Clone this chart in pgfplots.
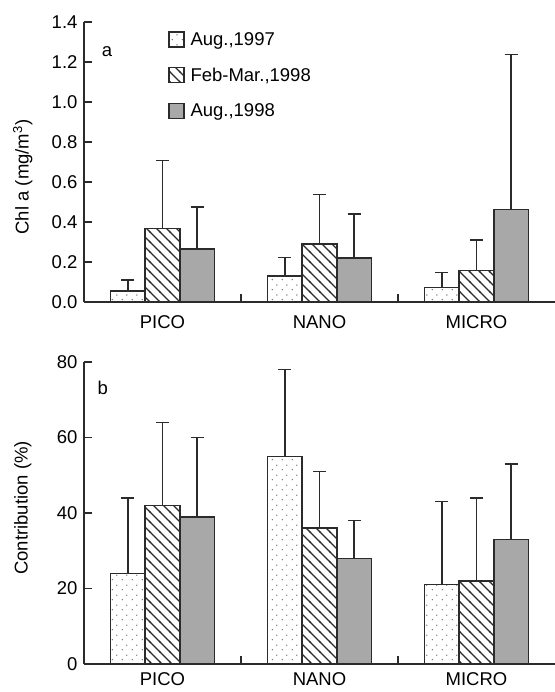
\documentclass[border=0pt]{standalone}
\usepackage{fontspec}
\setmainfont{Liberation Sans}
\usepackage{pgfplots}
\pgfplotsset{compat=1.18}
\usetikzlibrary{patterns}
\definecolor{ink}{HTML}{2B2B2B}
\definecolor{barfill}{HTML}{A8A8A8}

% sparse staggered dots
\pgfdeclarepatternformonly{sparsedots}{\pgfqpoint{0pt}{0pt}}{\pgfqpoint{10pt}{10pt}}{\pgfqpoint{10pt}{10pt}}{%
  \pgfpathcircle{\pgfqpoint{2.5pt}{2.5pt}}{0.8pt}%
  \pgfpathcircle{\pgfqpoint{7.5pt}{7.5pt}}{0.8pt}%
  \pgfusepath{fill}}
% wide "\" hatching
\pgfdeclarepatternformonly{widehatch}{\pgfqpoint{-1pt}{-1pt}}{\pgfqpoint{11pt}{11pt}}{\pgfqpoint{10pt}{10pt}}{%
  \pgfsetlinewidth{1.1pt}%
  \pgfpathmoveto{\pgfqpoint{-1pt}{11pt}}%
  \pgfpathlineto{\pgfqpoint{11pt}{-1pt}}%
  \pgfusepath{stroke}}

\pgfplotsset{
  panel/.style={
    scale only axis, width=471pt,
    xmin=-0.5, xmax=2.5, ymin=0,
    font=\fontsize{18.5}{22}\selectfont,
    /pgf/number format/assume math mode=true,
    axis x line=bottom, axis y line=left,
    axis line style={-, line width=1.5pt, ink},
    tick align=inside, major tick length=8pt,
    tick style={line width=1.5pt, ink},
    xtick={0.5,1.5}, xticklabels={},
    extra x ticks={0,1,2}, extra x tick labels={PICO,NANO,MICRO},
    extra x tick style={major tick length=0pt},
    yticklabel style={xshift=-3pt},
    legend image code/.code={\draw[##1, line width=1.3pt] (0pt,-7.5pt) rectangle (15pt,7.5pt);},
  },
  errs/.style={error bars/.cd, y dir=plus, y explicit,
    error bar style={line width=1.5pt, ink},
    error mark options={rotate=90, line width=1.5pt, ink, mark size=6.5pt}},
  s1/.style={ybar, bar width=0.22, bar shift=0pt, draw=ink, line width=1.5pt,
    pattern=sparsedots, pattern color=gray!85!black, errs},
  s2/.style={ybar, bar width=0.22, bar shift=0pt, draw=ink, line width=1.5pt,
    pattern=widehatch, pattern color=ink, errs},
  s3/.style={ybar, bar width=0.22, bar shift=0pt, draw=ink, line width=1.5pt,
    fill=barfill, errs},
}

\begin{document}
\begin{tikzpicture}
\useasboundingbox (0pt,0pt) rectangle (554pt,-692pt);

% panel a
\begin{axis}[panel,
  at={(84pt,-302pt)}, anchor=south west, height=280pt,
  ymax=1.4, ytick={0,0.2,...,1.4},
  yticklabel style={/pgf/number format/.cd, fixed, fixed zerofill, precision=1},
  extra x tick style={major tick length=0pt, xticklabel style={yshift=-10pt}},
  ylabel={Chl a (mg/m$^{\mathrm{3}}$)},
  ylabel style={at={(axis description cs:-0.13,0.446)}, anchor=center},
  legend style={at={(axis description cs:0.172,0.978)}, anchor=north west,
    draw=none, fill=none, row sep=17pt, column sep=4pt, cells={anchor=west},
    font=\fontsize{18.5}{22}\selectfont},
]
\addplot[s1] coordinates {(-0.22,0.055) +- (0,0.055) (0.78,0.13) +- (0,0.093) (1.78,0.072) +- (0,0.076)};
\addplot[s2] coordinates {(0,0.367) +- (0,0.340) (1,0.290) +- (0,0.248) (2,0.157) +- (0,0.153)};
\addplot[s3] coordinates {(0.22,0.264) +- (0,0.210) (1.22,0.220) +- (0,0.220) (2.22,0.463) +- (0,0.775)};
\legend{{Aug.,1997}, {Feb-Mar.,1998}, {Aug.,1998}}
\node[anchor=center] at (axis description cs:0.049,0.893) {a};
\end{axis}

% panel b
\begin{axis}[panel,
  at={(84pt,-664pt)}, anchor=south west, height=302pt,
  ymax=80, ytick={0,20,...,80},
  extra x tick style={major tick length=0pt, xticklabel style={yshift=-5pt}},
  ylabel={Contribution (\%)},
  ylabel style={at={(axis description cs:-0.13,0.517)}, anchor=center},
]
\addplot[s1] coordinates {(-0.22,24) +- (0,20) (0.78,55) +- (0,23) (1.78,21) +- (0,22)};
\addplot[s2] coordinates {(0,42) +- (0,22) (1,36) +- (0,15) (2,22) +- (0,22)};
\addplot[s3] coordinates {(0.22,39) +- (0,21) (1.22,28) +- (0,10) (2.22,33) +- (0,20)};
\node[anchor=center] at (axis description cs:0.040,0.914) {b};
\end{axis}
\end{tikzpicture}
\end{document}
